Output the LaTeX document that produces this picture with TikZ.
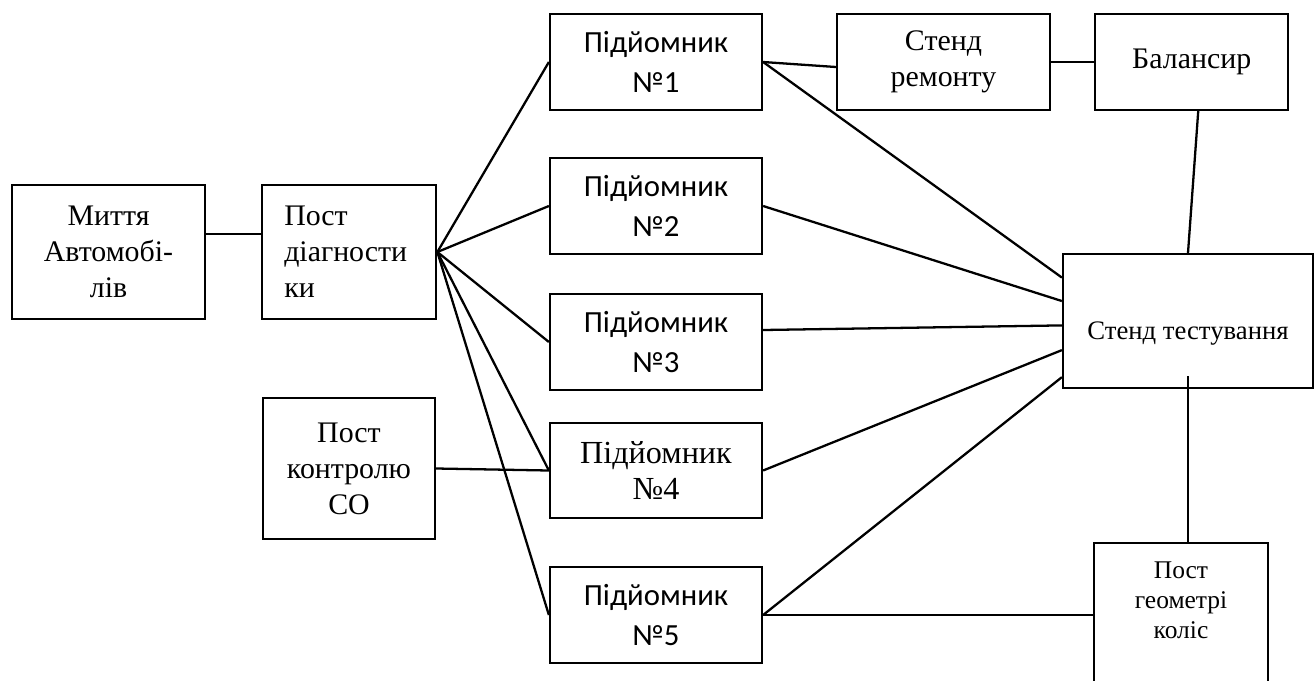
\documentclass[tikz,border=0pt]{standalone}
\usepackage{fontspec}
\setmainfont{Liberation Serif}
\newfontfamily\calibri{Carlito}
\usetikzlibrary{positioning}

\begin{document}
\begin{tikzpicture}[x=0.02cm, y=-0.02cm,
  blok/.style={draw, line width=1.3pt, inner sep=0pt, align=center},
  serif/.style={font=\fontsize{17}{20.5}\selectfont},
  sans/.style={font=\calibri\fontsize{17.5}{22.7}\selectfont},
  pidyom/.style={blok, minimum width=4.24cm, minimum height=1.92cm},
  lin/.style={line width=1.3pt}]
\useasboundingbox (0,0) rectangle (1316,680);

% left column
\node[blok, serif, minimum width=3.86cm, minimum height=2.68cm] (wash) at (108.5,252) {Миття\\Автомобі-\\лів};
\node[blok, serif, minimum width=3.48cm, minimum height=2.68cm, align=left, text width=2.6cm, right=1.1cm of wash] (diag) {Пост\\діагности\\ки};
\node[blok, serif, minimum width=3.44cm, minimum height=2.82cm] (kontr) at (349,468.5) {Пост\\контролю\\СО};

% lifts
\node[pidyom, sans] (p1) at (656,62) {Підйомник\\№1};
\node[pidyom, sans] (p2) at (656,206) {Підйомник\\№2};
\node[pidyom, sans] (p3) at (656,342) {Підйомник\\№3};
\node[pidyom, font=\fontsize{18.3}{20.4}\selectfont, minimum height=1.9cm] (p4) at (656,470.5) {Підйомник\\№4};
\node[pidyom, sans] (p5) at (656,615) {Підйомник\\№5};

% right part
\node[blok, serif, minimum width=4.26cm, minimum height=1.92cm] (remont) at (943.5,62) {Стенд\\ремонту};
\node[blok, serif, minimum width=3.86cm, minimum height=1.92cm, right=0.86cm of remont] (bal) {Балансир};
\node[blok, font=\fontsize{15.2}{17}\selectfont, minimum width=5cm, minimum height=2.68cm, text height=0.85cm] (test) at (1188,321) {Стенд тестування};
\node[blok, font=\fontsize{14.5}{17}\selectfont, minimum width=3.48cm, minimum height=3.14cm] (geo) at (1181,621.5) {Пост\\геометрі\\коліс\\[0.25cm]\mbox{}};

% connections
\draw[lin] ([yshift=0.36cm]wash.east) -- ([yshift=0.36cm]diag.west);
\foreach \p in {p1,p2,p3,p4,p5}
  \draw[lin] (diag.east) -- (\p.west);
\draw[lin] (kontr.east) -- (p4.west);
\draw[lin] (p1.east) -- ([yshift=-0.1cm]remont.west);
\draw[lin] (remont.east) -- (bal.west);
\draw[lin] ([xshift=0.13cm]bal.south) -- (test.north);
\foreach \p/\a in {p1/161,p2/171,p4/193,p5/204}
  \draw[lin] (\p.east) -- (test.\a);
\draw[lin] ([yshift=0.24cm]p3.east) -- (test.182);
\draw[lin] ([yshift=0.26cm]test.south) -- (test.south |- geo.north);
\draw[lin] (p5.east) -- (p5.east -| geo.west);
\end{tikzpicture}
\end{document}
